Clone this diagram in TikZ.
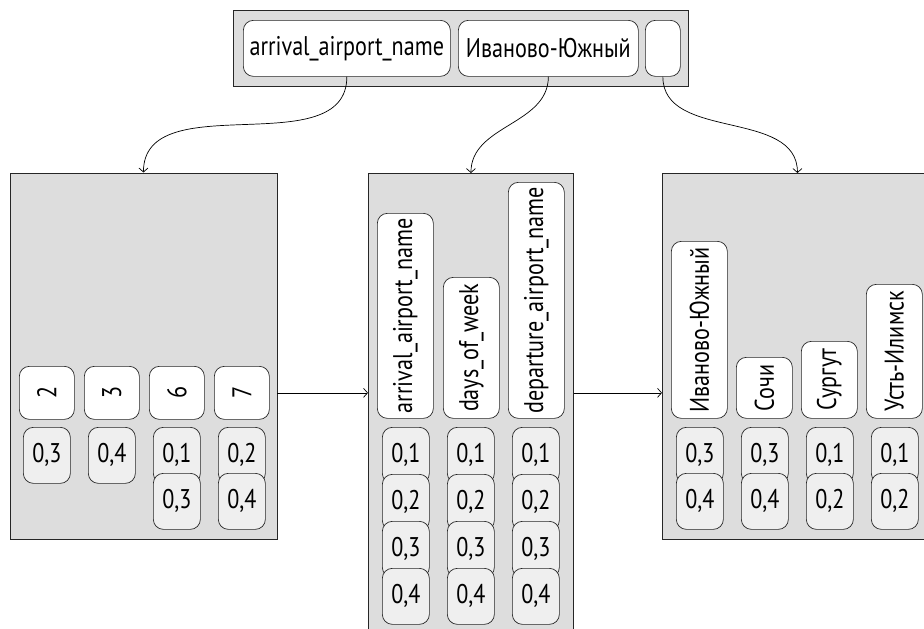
\documentclass[tikz,border=0pt]{standalone}
\usepackage{fontspec}
\setmainfont[FakeStretch=0.82]{PT Sans}
\usetikzlibrary{arrows.meta}
\definecolor{panelgray}{RGB}{221,221,221}
\definecolor{valgray}{RGB}{239,239,239}
\begin{document}
\begin{tikzpicture}[x=1pt,y=-1pt,
  panel/.style={draw=black!85, fill=panelgray, line width=0.9pt, inner sep=0pt, anchor=north west},
  keybox/.style={draw=black!85, fill=white, rounded corners=10pt, line width=0.7pt, inner sep=0pt, anchor=north west, font=\fontsize{27}{29}\selectfont},
  valbox/.style={draw=black!85, fill=valgray, rounded corners=10pt, line width=0.7pt, inner sep=0pt, anchor=north west, minimum width=47pt, minimum height=56pt, font=\fontsize{27}{29}\selectfont},
  link/.style={-{Straight Barb[length=4pt,width=9pt]}, line width=0.7pt}]
\clip (0,0) rectangle (924,629);
% top panel
\node[panel, minimum width=455pt, minimum height=76pt] (T) at (233,10) {};
\node[keybox, minimum width=207pt, minimum height=56pt] (ta) at (243,20) {arrival\_airport\_name};
\node[keybox, minimum width=180pt, minimum height=56pt] (tb) at (458,20) {Иваново-Южный};
\node[keybox, minimum width=35pt, minimum height=56pt] (tc) at (645,20) {};
% left panel
\node[panel, minimum width=267pt, minimum height=366pt] (L) at (9.5,172.5) {};
\node[keybox, minimum width=55pt, minimum height=53pt] (k2) at (19,366) {\rotatebox{90}{2}};
\node[keybox, minimum width=55pt, minimum height=53pt] (k3) at (84,366) {\rotatebox{90}{3}};
\node[keybox, minimum width=55pt, minimum height=53pt] (k6) at (149,366) {\rotatebox{90}{6}};
\node[keybox, minimum width=55pt, minimum height=53pt] (k7) at (214,366) {\rotatebox{90}{7}};
\node[valbox] (v2a) at (23,427) {0,3};
\node[valbox] (v3a) at (88,427) {0,4};
\node[valbox] (v6a) at (153,427) {0,1};
\node[valbox] (v6b) at (153,473) {0,3};
\node[valbox] (v7a) at (218,427) {0,2};
\node[valbox] (v7b) at (218,473) {0,4};
% middle panel
\node[panel, minimum width=205pt, minimum height=480pt] (M) at (368,173) {};
\node[keybox, minimum width=56pt, minimum height=205pt] (ma) at (377,213) {\rotatebox{90}{arrival\_airport\_name}};
\node[keybox, minimum width=56pt, minimum height=141pt] (mb) at (443,277) {\rotatebox{90}{days\_of\_week}};
\node[keybox, minimum width=56pt, minimum height=236pt] (mc) at (508,182) {\rotatebox{90}{departure\_airport\_name}};
\foreach \c/\x in {a/382,b/447,c/512}{
  \node[valbox] (m\c1) at (\x,427) {0,1};
  \node[valbox] (m\c2) at (\x,474) {0,2};
  \node[valbox] (m\c3) at (\x,521) {0,3};
  \node[valbox] (m\c4) at (\x,568) {0,4};
}
% right panel
\node[panel, minimum width=270pt, minimum height=366pt] (R) at (662,173) {};
\node[keybox, minimum width=56pt, minimum height=177pt] (ra) at (671,241) {\rotatebox{90}{Иваново-Южный}};
\node[keybox, minimum width=56pt, minimum height=61pt] (rb) at (736,357) {\rotatebox{90}{Сочи}};
\node[keybox, minimum width=56pt, minimum height=77pt] (rc) at (801,341) {\rotatebox{90}{Сургут}};
\node[keybox, minimum width=56pt, minimum height=134pt] (rd) at (866,284) {\rotatebox{90}{Усть-Илимск}};
\node[valbox] (ra1) at (676,427) {0,3};
\node[valbox] (ra2) at (676,473) {0,4};
\node[valbox] (rb1) at (741,427) {0,3};
\node[valbox] (rb2) at (741,473) {0,4};
\node[valbox] (rc1) at (806,427) {0,1};
\node[valbox] (rc2) at (806,473) {0,2};
\node[valbox] (rd1) at (871,427) {0,1};
\node[valbox] (rd2) at (871,473) {0,2};
% connectors
\draw[link] (ta.south) to[out=-90,in=90] (L.north);
\draw[link] (tb.south) to[out=-90,in=90] (M.north);
\draw[link] (tc.south) to[out=-90,in=90] (R.north);
\draw[link] (k7.east -| L.east) -- (k7.east -| M.west);
\draw[link] (k7.east -| M.east) -- (k7.east -| R.west);
\end{tikzpicture}
\end{document}
